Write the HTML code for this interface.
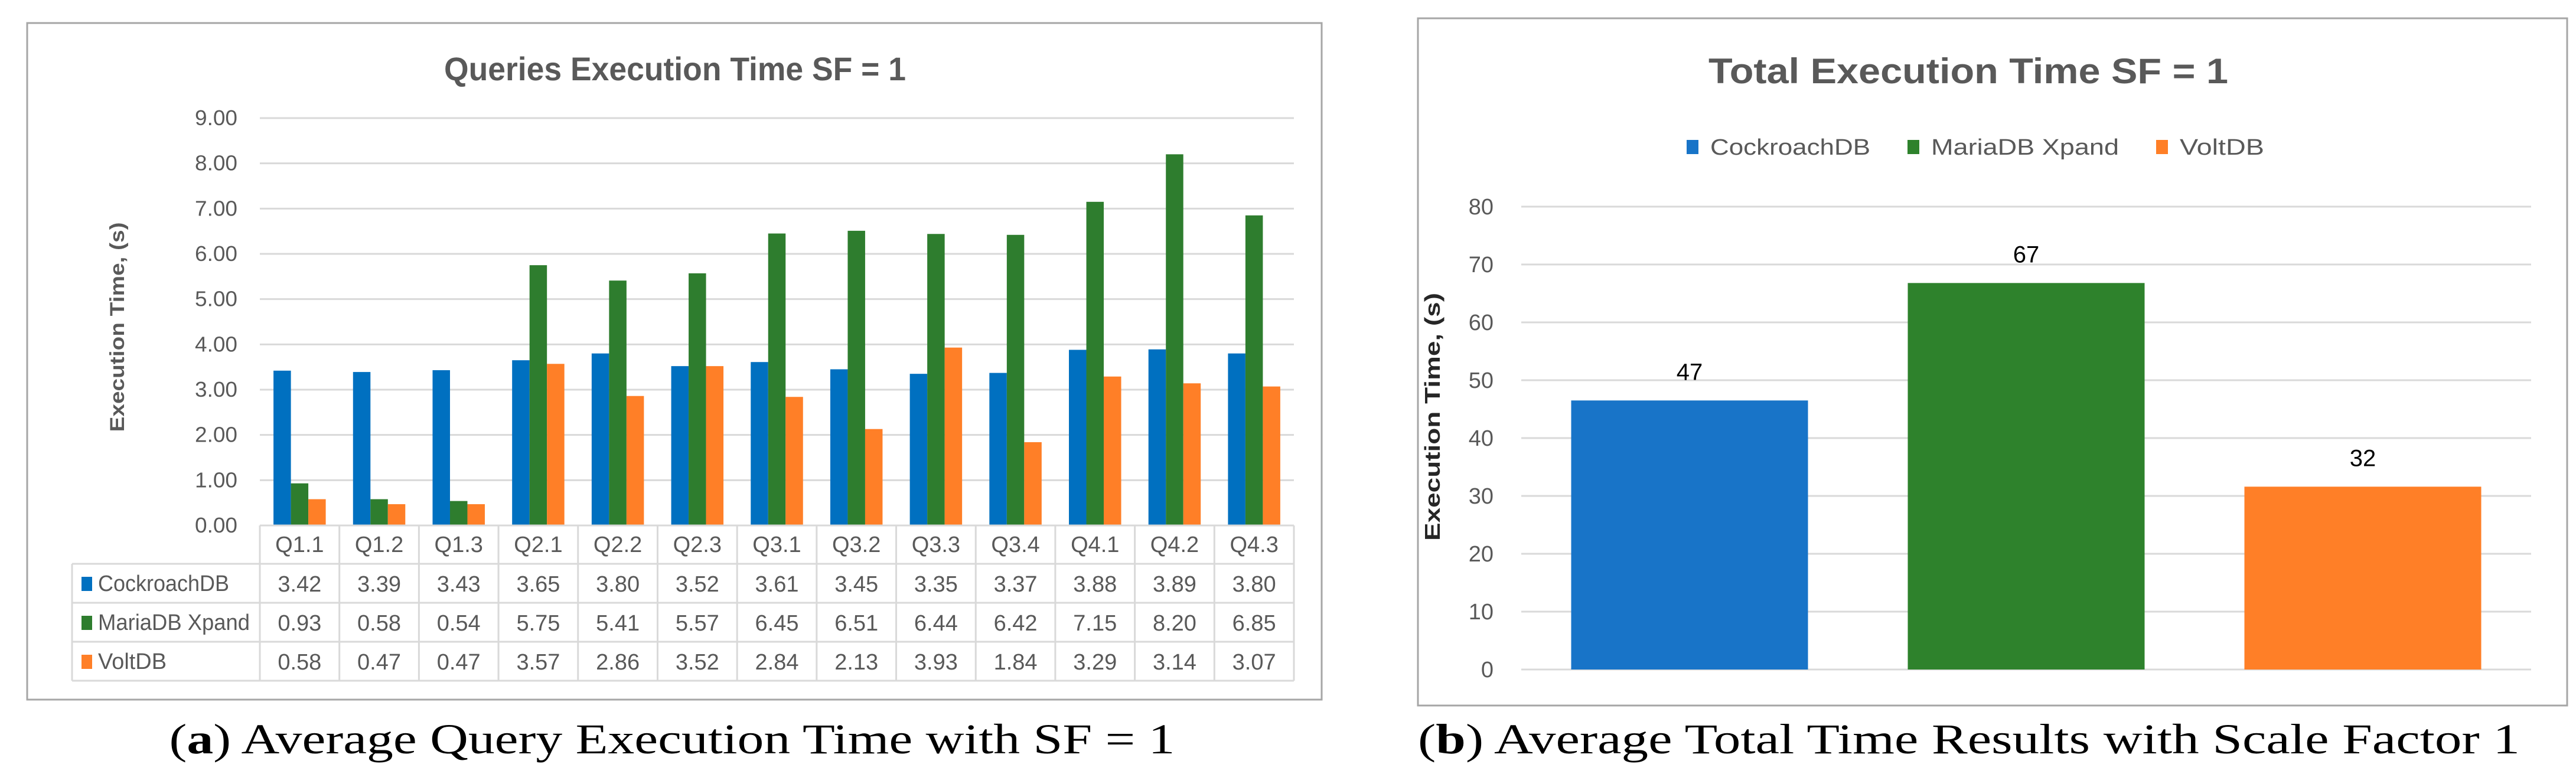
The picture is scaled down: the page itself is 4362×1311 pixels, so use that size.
<!DOCTYPE html>
<html><head><meta charset="utf-8">
<style>
html,body{margin:0;padding:0;background:#fff;}
svg{display:block;}
text{font-family:"Liberation Sans Narrow","Liberation Sans",sans-serif;}
.serif{font-family:"Liberation Serif",serif;}
</style></head>
<body>
<svg id="fig" width="4362" height="1311" viewBox="0 0 4362 1311" xmlns="http://www.w3.org/2000/svg">
  <rect x="46" y="39" width="2192" height="1146" fill="#fff" stroke="#a6a6a6" stroke-width="3"/>
  <text x="1143" y="136" text-anchor="middle" font-size="56" font-weight="bold" fill="#595959" textLength="782" lengthAdjust="spacingAndGlyphs">Queries Execution Time SF = 1</text>
  <text transform="translate(210,554) rotate(-90)" text-anchor="middle" font-size="34" font-weight="bold" fill="#595959" textLength="355" lengthAdjust="spacingAndGlyphs">Execution Time, (s)</text>
  <g id="leftGrid"></g>
  <g id="leftBars"></g>
  <g id="leftTable"></g>
  <text class="serif" x="1138" y="1276" text-anchor="middle" font-size="72" fill="#000" textLength="1703" lengthAdjust="spacingAndGlyphs">(<tspan font-weight="bold">a</tspan>) Average Query Execution Time with SF = 1</text>

  <rect x="2401" y="31" width="1946" height="1164" fill="#fff" stroke="#a6a6a6" stroke-width="3"/>
  <text x="3333" y="141" text-anchor="middle" font-size="60" font-weight="bold" fill="#595959" textLength="880" lengthAdjust="spacingAndGlyphs">Total Execution Time SF = 1</text>
  <g id="legend"></g>
  <text transform="translate(2438,706) rotate(-90)" text-anchor="middle" font-size="36" font-weight="bold" fill="#262626" textLength="420" lengthAdjust="spacingAndGlyphs">Execution Time, (s)</text>
  <g id="rightGrid"></g>
  <g id="rightBars"></g>
  <text class="serif" x="3334" y="1276" text-anchor="middle" font-size="72" fill="#000" textLength="1866" lengthAdjust="spacingAndGlyphs">(<tspan font-weight="bold">b</tspan>) Average Total Time Results with Scale Factor 1</text>
</svg>
<script>
const categories = ["Q1.1","Q1.2","Q1.3","Q2.1","Q2.2","Q2.3","Q3.1","Q3.2","Q3.3","Q3.4","Q4.1","Q4.2","Q4.3"];
const seriesNames = ["CockroachDB","MariaDB Xpand","VoltDB"];
const cockroachValues = [3.42,3.39,3.43,3.65,3.80,3.52,3.61,3.45,3.35,3.37,3.88,3.89,3.80];
const mariaValues = [0.93,0.58,0.54,5.75,5.41,5.57,6.45,6.51,6.44,6.42,7.15,8.20,6.85];
const voltValues = [0.58,0.47,0.47,3.57,2.86,3.52,2.84,2.13,3.93,1.84,3.29,3.14,3.07];
const leftTicks = [0,1,2,3,4,5,6,7,8,9];
const totalValues = [46.5,66.8,31.6];
const totalLabels = ["47","67","32"];
const rightTicks = [0,10,20,30,40,50,60,70,80];

const NS = "http://www.w3.org/2000/svg";
const colors = ["#0070c0","#2e7d2e","#ff7f27"];
const rColors = ["#1874c8","#2e822c","#ff7f27"];
const tableNameWidths = [222,257,116];
const legendNameWidths = [271,318,143];
function mk(tag, attrs, parent){const e=document.createElementNS(NS,tag);for(const k in attrs)e.setAttribute(k,attrs[k]);parent.appendChild(e);return e;}

// Left chart
const L = {x0:440, x1:2191, y0:890, yTop:200, max:9};
const ly = v => L.y0 - (v/L.max)*(L.y0-L.yTop);
const cw = (L.x1-L.x0)/categories.length;
const lx = i => L.x0 + i*cw;
const lg = document.getElementById('leftGrid');
leftTicks.forEach(t=>{
  const ln = mk('line',{x1:L.x0,x2:L.x1,y1:ly(t),y2:ly(t),stroke:'#d9d9d9','stroke-width':3},lg);
  
  
  const tx = mk('text',{x:402,y:ly(t)+12,'text-anchor':'end','font-size':36,fill:'#595959',textLength:72,lengthAdjust:'spacingAndGlyphs'},lg);
  tx.textContent = t.toFixed(2);
  
  
});
const lb = document.getElementById('leftBars');
const leftSeries = [cockroachValues, mariaValues, voltValues];
const bw = 29.5;
leftSeries.forEach((vals,s)=>{
  vals.forEach((v,i)=>{
    const x = lx(i) + cw/2 - 1.5*bw + s*bw;
    const r = mk('rect',{x:x,y:ly(v),width:bw,height:L.y0-ly(v),fill:colors[s]},lb);
    
    
  });
});
// table
const tb = document.getElementById('leftTable');
const rowsY = [890,955,1021,1087,1153];
const tabLeft = 122;
const tc = '#d9d9d9';
for(let i=0;i<=categories.length;i++){
  const l = mk('line',{x1:lx(i),x2:lx(i),y1:rowsY[0],y2:rowsY[4],stroke:tc,'stroke-width':3},tb);
  
  
}
const lv = mk('line',{x1:tabLeft,x2:tabLeft,y1:rowsY[1],y2:rowsY[4],stroke:tc,'stroke-width':3},tb);


rowsY.forEach((y,k)=>{
  const l = mk('line',{x1:k===0?L.x0:tabLeft,x2:L.x1,y1:y,y2:y,stroke:tc,'stroke-width':3},tb);
  
  
});
categories.forEach((c,i)=>{
  const t = mk('text',{x:lx(i)+cw/2,y:rowsY[0]+45,'text-anchor':'middle','font-size':38,fill:'#595959'},tb);
  t.textContent = c;
  
  
});
leftSeries.forEach((vals,s)=>{
  const ry = rowsY[s+1];
  const sq = mk('rect',{x:138,y:ry+22,width:18,height:24,fill:colors[s]},tb);
  
  
  const nm = mk('text',{x:166,y:ry+46,'font-size':38,fill:'#595959',textLength:tableNameWidths[s],lengthAdjust:'spacingAndGlyphs'},tb);
  nm.textContent = seriesNames[s];
  
  
  vals.forEach((v,i)=>{
    const t = mk('text',{x:lx(i)+cw/2,y:ry+47,'text-anchor':'middle','font-size':38,fill:'#595959'},tb);
    t.textContent = v.toFixed(2);
    
    
  });
});

// Right chart
const R = {x0:2576, x1:4286, y0:1134, yTop:350, max:80};
const ry = v => R.y0 - (v/R.max)*(R.y0-R.yTop);
const rcw = (R.x1-R.x0)/totalValues.length;
const rg = document.getElementById('rightGrid');
rightTicks.forEach(t=>{
  const ln = mk('line',{x1:R.x0,x2:R.x1,y1:ry(t),y2:ry(t),stroke:'#d9d9d9','stroke-width':3},rg);
  
  
  const tx = mk('text',{x:2529,y:ry(t)+13,'text-anchor':'end','font-size':38,fill:'#595959'},rg);
  tx.textContent = String(t);
  
  
});
const rb = document.getElementById('rightBars');
const rbw = 401;
totalValues.forEach((v,i)=>{
  const x = R.x0 + i*rcw + (rcw-rbw)/2;
  const r = mk('rect',{x:x,y:ry(v),width:rbw,height:R.y0-ry(v),fill:rColors[i]},rb);
  
  
  const t = mk('text',{x:x+rbw/2,y:ry(v)-35,'text-anchor':'middle','font-size':40,fill:'#000'},rb);
  t.textContent = totalLabels[i];
  
  
});
const lgd = document.getElementById('legend');
const legX = [2856,3230,3651];
seriesNames.forEach((n,i)=>{
  const sq = mk('rect',{x:legX[i],y:237,width:20,height:24,fill:rColors[i]},lgd);
  
  
  const t = mk('text',{x:legX[i]+40,y:262,'font-size':38,fill:'#595959',textLength:legendNameWidths[i],lengthAdjust:'spacingAndGlyphs'},lgd);
  t.textContent = n;
  
  
});
</script>
</body></html>
